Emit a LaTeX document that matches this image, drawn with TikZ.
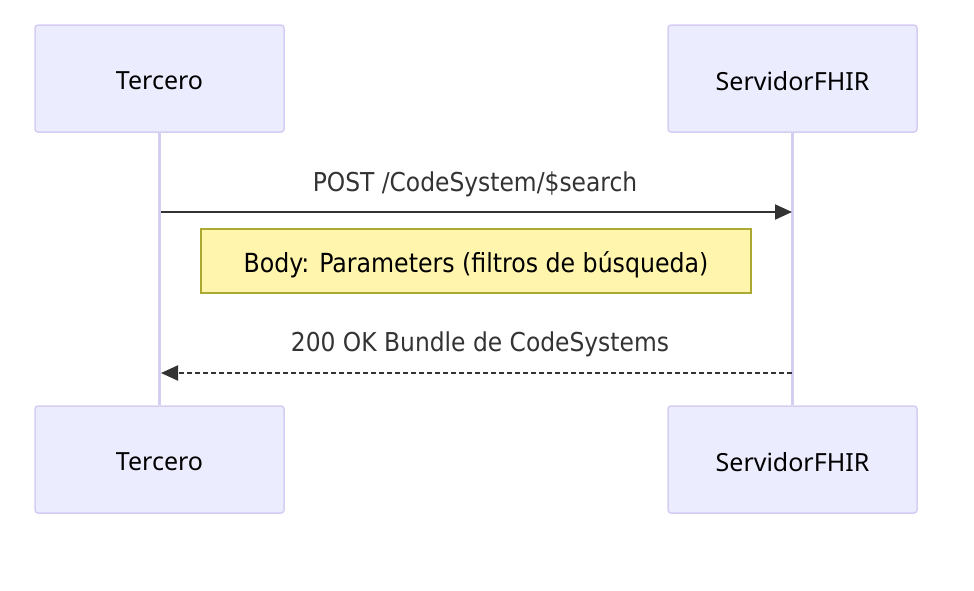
\documentclass[tikz,border=0pt]{standalone}
\usepackage{fontspec}
\setmainfont{Noto Sans}
\newfontfamily\msgfont{DejaVu Sans Condensed}
\usetikzlibrary{arrows.meta}
\definecolor{actfill}{HTML}{ECECFF}
\definecolor{actline}{HTML}{D6CDF3}
\definecolor{msgcol}{HTML}{333333}
\definecolor{notefill}{HTML}{FFF5AD}
\definecolor{noteline}{HTML}{AAAA33}
\tikzset{
  actor/.style={draw=actline, line width=1.5pt, fill=actfill, rounded corners=3pt,
    minimum width=249pt, minimum height=107pt, inner sep=0pt},
  actortext/.style={inner sep=0pt, font=\fontsize{25pt}{28pt}\selectfont, text=black},
  life/.style={draw=actline, line width=2.5pt},
  msg/.style={draw=msgcol, line width=2pt, -{Triangle[length=17pt,width=15pt]}},
  msglabel/.style={font=\msgfont\fontsize{26pt}{30pt}\selectfont, text=msgcol, inner sep=0pt},
  notebox/.style={draw=noteline, line width=1.2pt, fill=notefill,
    minimum width=550pt, minimum height=64pt, inner sep=0pt},
  notetext/.style={inner sep=0pt, font=\msgfont\fontsize{26.3pt}{30pt}\selectfont, text=black}
}
\begin{document}
\begin{tikzpicture}[x=1pt,y=-1pt]
\useasboundingbox (0,0) rectangle (974,590);
\node[actor] (t1) at (159.5,78.5) {};
\node[actor] (s1) at (792.5,78.5) {};
\node[actor] (t2) at (159.5,459.5) {};
\node[actor] (s2) at (792.5,459.5) {};
\node[actortext] (t1t) at ([yshift=-2.5pt]t1.center) {Tercero};
\node[actortext] (s1t) at ([yshift=-2.5pt]s1.center) {ServidorFHIR};
\node[actortext] (t2t) at ([yshift=-2.5pt]t2.center) {Tercero};
\node[actortext] (s2t) at ([yshift=-2.5pt]s2.center) {ServidorFHIR};
\draw[life] (t1.south) -- (t2.north);
\draw[life] (s1.south) -- (s2.north);
\coordinate (a1s) at (161,212);
\coordinate (a1e) at (792,212);
\draw[msg] (a1s) -- (a1e);
\node[msglabel] (l1) at (475,184.5) {POST /CodeSystem/\$search};
\node[notebox] (n1) at (476,261) {};
\node[notetext] (n1t) at ([yshift=-3.5pt]n1.center) {Body: Parameters (filtros de búsqueda)};
\coordinate (a2s) at (792,373);
\coordinate (a2e) at (161,373);
\draw[msg, dash pattern=on 5pt off 3pt] (a2s) -- (a2e);
\node[msglabel] (l2) at (480,344.5) {200 OK Bundle de CodeSystems};
\end{tikzpicture}
\end{document}
